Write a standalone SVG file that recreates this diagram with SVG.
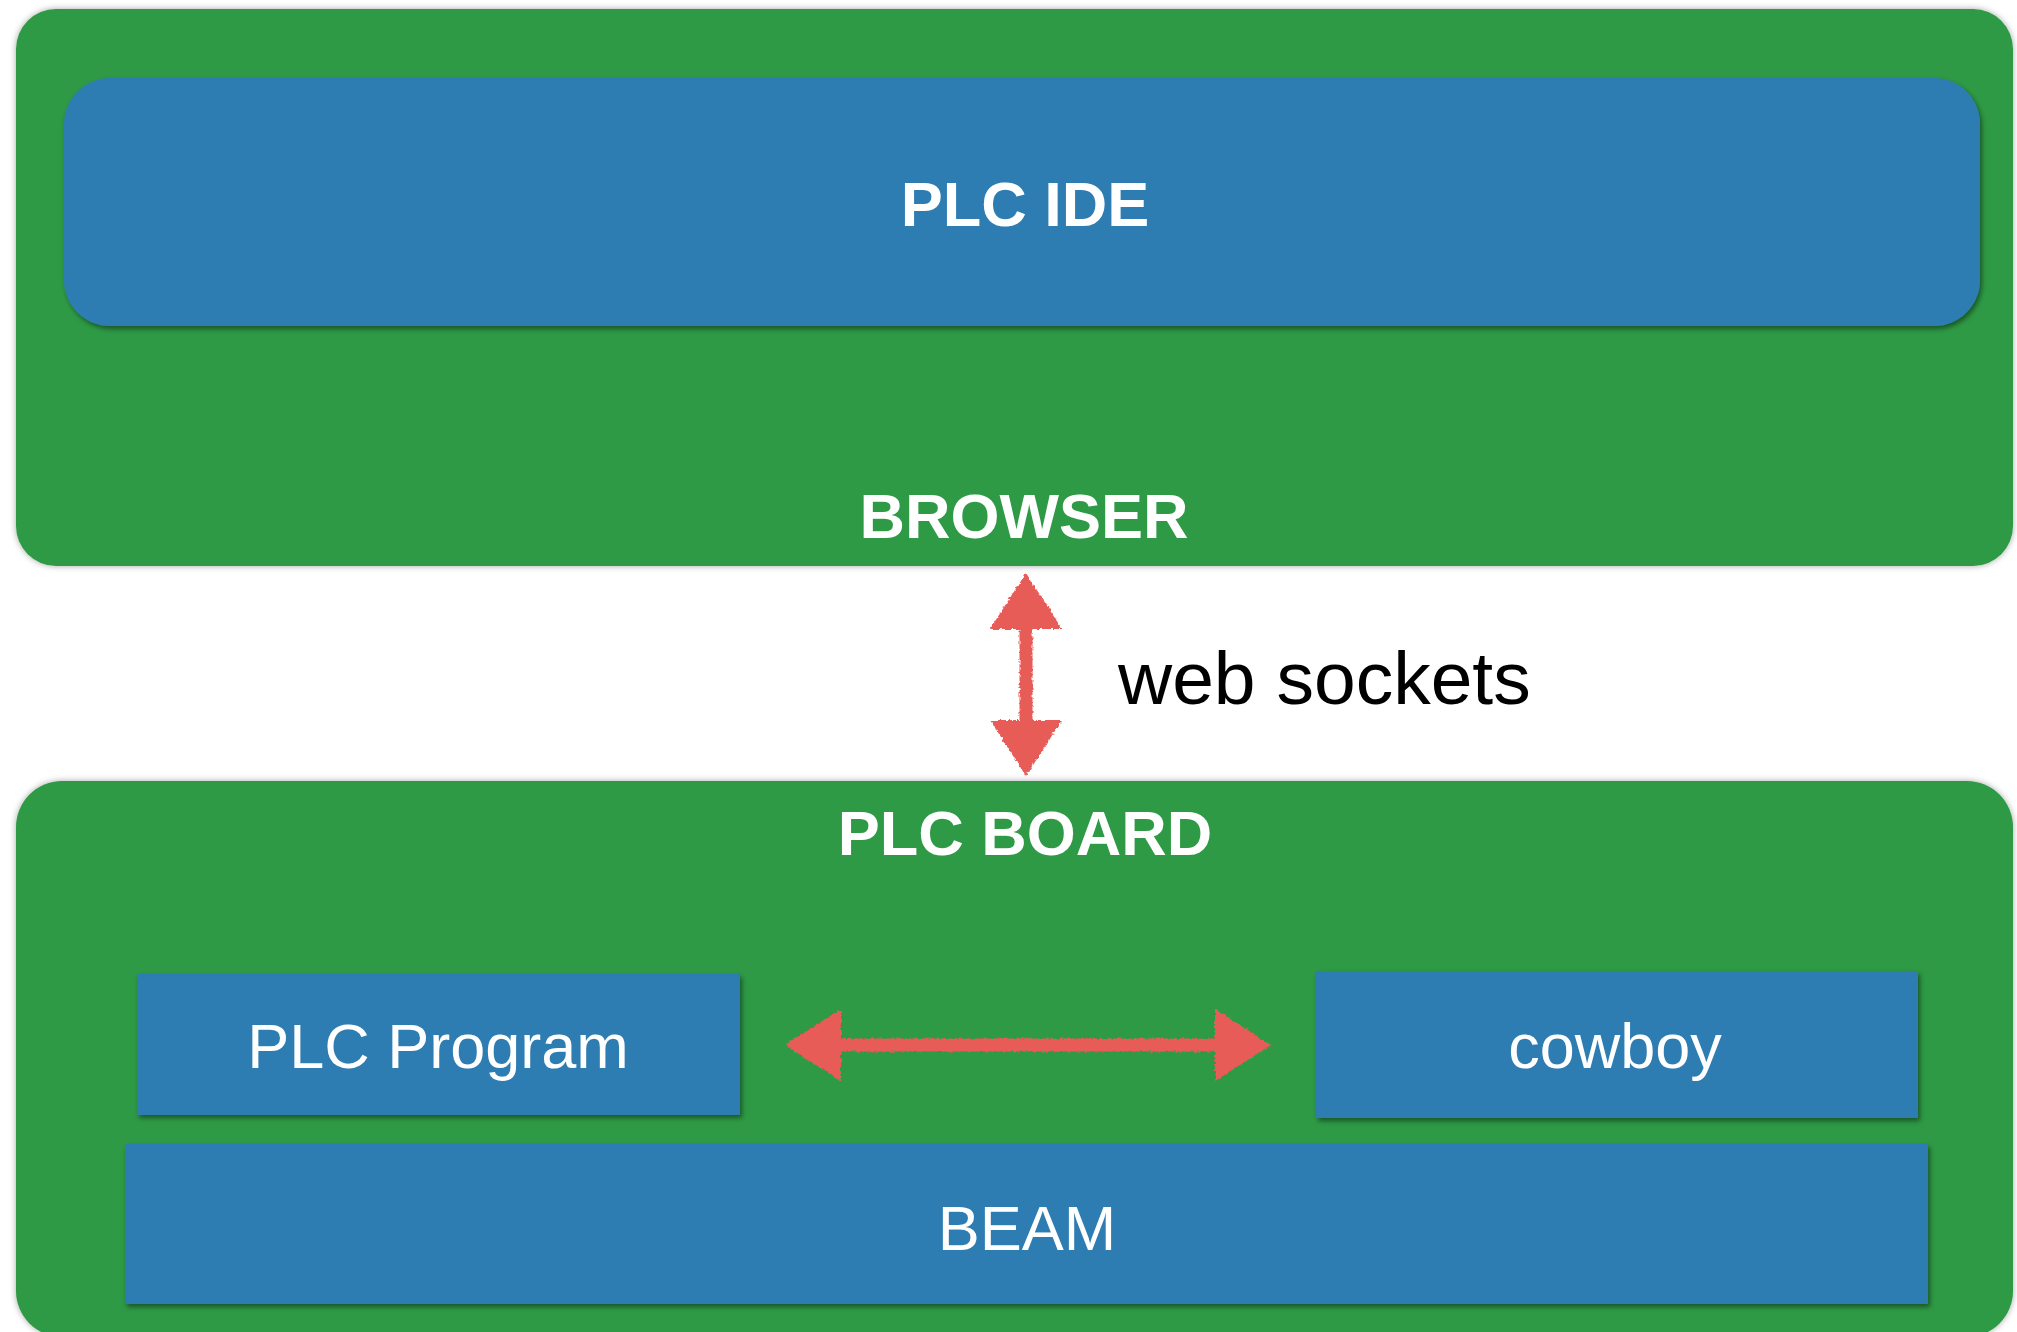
<svg xmlns="http://www.w3.org/2000/svg" width="2017" height="1332" viewBox="0 0 2017 1332">
  <defs>
    <filter id="outerShadow" x="-5%" y="-5%" width="110%" height="110%">
      <feGaussianBlur in="SourceAlpha" stdDeviation="3"/>
      <feOffset dx="0" dy="0" result="b"/>
      <feFlood flood-color="#000" flood-opacity="0.35"/>
      <feComposite in2="b" operator="in" result="s"/>
      <feMerge><feMergeNode in="s"/><feMergeNode in="SourceGraphic"/></feMerge>
    </filter>
    <filter id="innerShadow" x="-5%" y="-10%" width="110%" height="125%">
      <feGaussianBlur in="SourceAlpha" stdDeviation="2.5"/>
      <feOffset dx="2" dy="3" result="b"/>
      <feFlood flood-color="#000" flood-opacity="0.45"/>
      <feComposite in2="b" operator="in" result="s"/>
      <feMerge><feMergeNode in="s"/><feMergeNode in="SourceGraphic"/></feMerge>
    </filter>
    <filter id="chalk" x="-10%" y="-10%" width="120%" height="120%">
      <feTurbulence type="fractalNoise" baseFrequency="0.35" numOctaves="2" seed="3" result="n"/>
      <feDisplacementMap in="SourceGraphic" in2="n" scale="4" xChannelSelector="R" yChannelSelector="G"/>
    </filter>
    <marker id="head" viewBox="0 0 56 72" refX="29" refY="36" markerWidth="56" markerHeight="72" markerUnits="userSpaceOnUse" orient="auto-start-reverse">
      <path d="M0,0 L56,36 L0,72 Z" fill="#e85b58"/>
    </marker>
  </defs>
  <style>
    .outer { fill: #2e9a45; }
    .inner { fill: #2e7db2; }
    .bold { font-family: "Liberation Sans", Arial, sans-serif; font-weight: bold; font-size: 63px; fill: #ffffff; text-anchor: middle; }
    .light { font-family: "Liberation Sans", Arial, sans-serif; font-size: 63px; fill: #ffffff; text-anchor: middle; }
    .label { font-family: "Liberation Sans", Arial, sans-serif; font-size: 75px; fill: #000000; }
    .conn { stroke: #e85b58; stroke-width: 13; fill: none; }
  </style>
  <rect x="0" y="0" width="2017" height="1332" fill="#ffffff"/>

  <g id="browser">
    <rect class="outer" x="16" y="9" width="1997" height="557" rx="40" filter="url(#outerShadow)"/>
    <text class="bold" x="1024" y="538">BROWSER</text>
  </g>
  <g id="plc-ide">
    <rect class="inner" x="64" y="78" width="1916" height="248" rx="46" filter="url(#innerShadow)"/>
    <text class="bold" x="1025" y="226">PLC IDE</text>
  </g>

  <g id="plc-board">
    <rect class="outer" x="16" y="781" width="1997" height="556" rx="46" filter="url(#outerShadow)"/>
    <text class="bold" x="1025" y="855">PLC BOARD</text>
  </g>
  <g id="plc-program">
    <rect class="inner" x="137" y="974" width="603" height="141" filter="url(#innerShadow)"/>
    <text class="light" x="438" y="1068">PLC Program</text>
  </g>
  <g id="cowboy">
    <rect class="inner" x="1316" y="971" width="602" height="147" filter="url(#innerShadow)"/>
    <text class="light" x="1615" y="1068">cowboy</text>
  </g>
  <g id="beam">
    <rect class="inner" x="125" y="1144" width="1803" height="160" filter="url(#innerShadow)"/>
    <text class="light" x="1027" y="1250">BEAM</text>
  </g>

  <g id="connectors" filter="url(#chalk)">
    <line class="conn" x1="1026" y1="600" x2="1026" y2="749" marker-start="url(#head)" marker-end="url(#head)"/>
    <line class="conn" x1="812" y1="1045" x2="1244" y2="1045" marker-start="url(#head)" marker-end="url(#head)"/>
  </g>
  <text class="label" x="1118" y="704">web sockets</text>
</svg>
